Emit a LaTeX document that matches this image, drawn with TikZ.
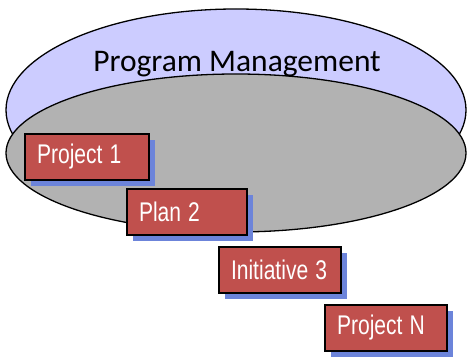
\documentclass[tikz,border=0pt]{standalone}
\usepackage{fontspec}
\usepackage{graphicx}
\usepackage{xcolor}
\usepackage{tikz}
\usetikzlibrary{shadows}
\newfontfamily\titlefont{Carlito}
\newfontfamily\boxfont{Liberation Sans}
\newcommand{\narrowtext}[1]{\scalebox{0.78}[1]{#1}}
\definecolor{programblue}{RGB}{204,204,255}
\definecolor{projectgray}{RGB}{178,178,178}
\definecolor{projectred}{RGB}{192,80,77}
\definecolor{shadowblue}{RGB}{108,132,218}

\tikzset{
  workbox/.style={draw=black, line width=1.6pt, fill=projectred,
    minimum height=46pt, inner xsep=12pt, inner ysep=0pt, align=left,
    text=white, font=\boxfont\fontsize{27}{30}\selectfont,
    general shadow={fill=shadowblue, shadow xshift=6pt, shadow yshift=-6pt}}
}

\begin{document}
\begin{tikzpicture}[x=1pt,y=1pt]
                \useasboundingbox (0,0) rectangle (468,361);
                % Ellipses
                \filldraw[fill=programblue,draw=black,line width=1.3pt] (236,251) ellipse (230 and 101);
                \filldraw[fill=projectgray,draw=black,line width=1.3pt] (236,208) ellipse (230 and 79);
                \node[anchor=base,inner sep=0pt] (program) at (237,289) {\titlefont\fontsize{31.5}{34}\selectfont Program Management};
                % Work items
                \node[workbox,text width=100pt] (project1) at (87,204) {\narrowtext{Project 1}};
                \node[workbox,text width=96pt] (plan2) at (187,149) {\narrowtext{Plan 2}};
                \node[workbox,text width=98pt] (initiative3) at (280,91) {\narrowtext{Initiative 3}};
                \node[workbox,text width=98pt] (projectN) at (386,33) {\narrowtext{Project N}};
            \end{tikzpicture}
\end{document}
